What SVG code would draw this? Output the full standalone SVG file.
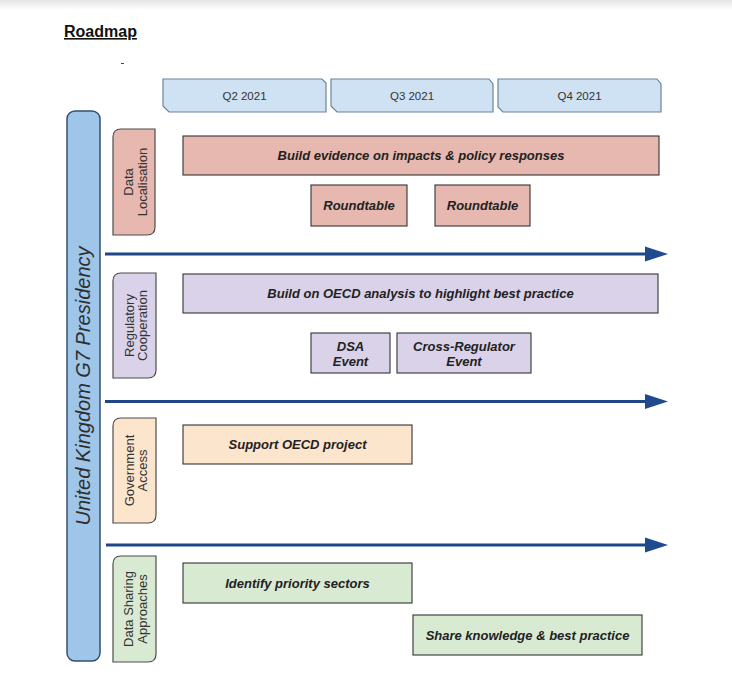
<svg xmlns="http://www.w3.org/2000/svg" width="732" height="675" viewBox="0 0 732 675">
<defs>
<linearGradient id="topband" x1="0" y1="0" x2="0" y2="1">
<stop offset="0" stop-color="#e4e4e4"/>
<stop offset="1" stop-color="#ffffff"/>
</linearGradient>
</defs>
<style>
.q{fill:#cfe2f3;stroke:#6b849b;stroke-width:1.2}
.qt{font-family:"Liberation Sans",Arial,sans-serif;font-size:11.5px;fill:#333;text-anchor:middle}
.lab{stroke:#4d4d4d;stroke-width:1.2}
.lt{font-family:"Liberation Sans",Arial,sans-serif;font-size:13px;fill:#333;text-anchor:middle}
.task{stroke:#333;stroke-width:1.1}
.tt{font-family:"Liberation Sans",Arial,sans-serif;font-size:13px;font-weight:bold;font-style:italic;fill:#222;text-anchor:middle}
.red{fill:#e6b8af}
.pur{fill:#d9d2e9}
.org{fill:#fce5cd}
.grn{fill:#d9ead3}
.arr{stroke:#1f4788;stroke-width:3;fill:none}
.ah{fill:#1f4a90}
</style>
<rect x="0" y="0" width="732" height="675" fill="#ffffff"/>
<rect x="0" y="0" width="732" height="10" fill="url(#topband)"/>
<text x="64" y="37" font-family="'Liberation Sans',Arial,sans-serif" font-size="16" font-weight="bold" fill="#111" text-decoration="underline">Roadmap</text>
<line x1="121" y1="63.5" x2="124" y2="63.5" stroke="#444" stroke-width="1"/>

<g id="q2">
<polygon class="q" points="163,79 322,79 326,83 326,112 169,112 163,106"/>
<text class="qt" x="244.5" y="99.5">Q2 2021</text>
</g>
<g id="q3">
<polygon class="q" points="331,79 489,79 493,84 493,112 337,112 331,106"/>
<text class="qt" x="412" y="99.5">Q3 2021</text>
</g>
<g id="q4">
<polygon class="q" points="498,79 657,79 661,84 661,112 503,112 498,107"/>
<text class="qt" x="579.5" y="99.5">Q4 2021</text>
</g>

<g id="presidency">
<rect x="67" y="111" width="33" height="550" rx="8" ry="8" fill="#9fc5e8" stroke="#34506e" stroke-width="1.5"/>
<text transform="translate(90,386) rotate(-90)" font-family="'Liberation Sans',Arial,sans-serif" font-size="20" font-style="italic" fill="#2e2e2e" text-anchor="middle">United Kingdom G7 Presidency</text>
</g>

<g id="connectors">
<line class="arr" x1="105" y1="254" x2="648" y2="254"/>
<polygon class="ah" points="645,246.5 668,254 645,261.5"/>
<line class="arr" x1="105" y1="401.5" x2="648" y2="401.5"/>
<polygon class="ah" points="645,394 668,401.5 645,409"/>
<line class="arr" x1="106" y1="545" x2="648" y2="545"/>
<polygon class="ah" points="645,537.5 668,545 645,552.5"/>
</g>

<g id="label-data-localisation">
<path class="lab red" d="M113,137 Q113,129 121,129 L155,129 L155,227 Q155,235 147,235 L113,235 Z"/>
<text class="lt" transform="translate(133,182) rotate(-90)">Data</text>
<text class="lt" transform="translate(147,182) rotate(-90)">Localisation</text>
</g>
<g id="label-regulatory-cooperation">
<path class="lab pur" d="M113,281 Q113,273 121,273 L156,273 L156,370 Q156,378 148,378 L113,378 Z"/>
<text class="lt" transform="translate(133.5,325.5) rotate(-90)">Regulatory</text>
<text class="lt" transform="translate(147,325.5) rotate(-90)">Cooperation</text>
</g>
<g id="label-government-access">
<path class="lab org" d="M113,426 Q113,418 121,418 L156,418 L156,515 Q156,523 148,523 L113,523 Z"/>
<text class="lt" transform="translate(134,470.5) rotate(-90)">Government</text>
<text class="lt" transform="translate(147,470.5) rotate(-90)">Access</text>
</g>
<g id="label-data-sharing">
<path class="lab grn" d="M113,564 Q113,556 121,556 L156,556 L156,654 Q156,662 148,662 L113,662 Z"/>
<text class="lt" transform="translate(133,609) rotate(-90)">Data Sharing</text>
<text class="lt" transform="translate(146.5,609) rotate(-90)">Approaches</text>
</g>

<g id="task-build-evidence">
<rect class="task red" x="183" y="136" width="476" height="39"/>
<text class="tt" x="421" y="160">Build evidence on impacts &amp; policy responses</text>
</g>
<g id="task-roundtable-1">
<rect class="task red" x="311" y="185" width="96" height="41"/>
<text class="tt" x="359" y="210">Roundtable</text>
</g>
<g id="task-roundtable-2">
<rect class="task red" x="435" y="185" width="95" height="41"/>
<text class="tt" x="482.5" y="210">Roundtable</text>
</g>
<g id="task-build-oecd">
<rect class="task pur" x="183" y="274" width="475" height="39"/>
<text class="tt" x="420.5" y="298">Build on OECD analysis to highlight best practice</text>
</g>
<g id="task-dsa-event">
<rect class="task pur" x="311" y="333" width="79" height="40"/>
<text class="tt" x="350.5" y="351">DSA</text>
<text class="tt" x="350.5" y="366">Event</text>
</g>
<g id="task-cross-regulator">
<rect class="task pur" x="397" y="333" width="134" height="40"/>
<text class="tt" x="464" y="351">Cross-Regulator</text>
<text class="tt" x="464" y="366">Event</text>
</g>
<g id="task-support-oecd">
<rect class="task org" x="183" y="425" width="229" height="39"/>
<text class="tt" x="297.5" y="449">Support OECD project</text>
</g>
<g id="task-identify-sectors">
<rect class="task grn" x="183" y="563" width="229" height="40"/>
<text class="tt" x="297.5" y="587.5">Identify priority sectors</text>
</g>
<g id="task-share-knowledge">
<rect class="task grn" x="413" y="615" width="229" height="40"/>
<text class="tt" x="527.5" y="639.5">Share knowledge &amp; best practice</text>
</g>
</svg>
